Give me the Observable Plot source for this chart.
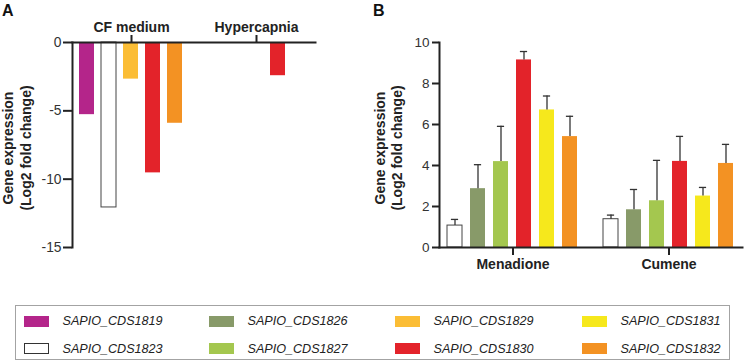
<!DOCTYPE html>
<html>
<head>
<meta charset="utf-8">
<script src="https://cdn.jsdelivr.net/npm/d3@7"></script>
<script src="https://cdn.jsdelivr.net/npm/@observablehq/plot@0.6"></script>
<style>
  html, body { margin: 0; padding: 0; background: #fff; }
  #page { position: relative; width: 745px; height: 361px; overflow: hidden;
          font-family: "Liberation Sans", Arial, sans-serif; color: #222; }
  .panel { position: absolute; top: 0; }
  .letter { position: absolute; top: 3px; font-size: 16px; line-height: 16px; font-weight: bold; color: #111; }
  #legend { position: absolute; left: 14.5px; top: 305px; width: 715px; height: 55px;
            box-sizing: border-box; border: 1px solid #a3a3a3; }
  .item { position: absolute; display: flex; align-items: center; height: 20px; }
  .swatch { width: 25px; height: 11px; box-sizing: border-box; margin-right: 14px; }
  .name { font-style: italic; font-size: 12.6px; color: #222; white-space: nowrap; }
  g[aria-label="fx-axis tick label"] text { font-weight: bold; }
  g[aria-label="y-axis tick label"] text { fill: #333; }
</style>
</head>
<body>
<div id="page">
  <div class="panel" id="panelA" style="left:0"></div>
  <div class="panel" id="panelB" style="left:370px"></div>
  <div class="letter" style="left:2px">A</div>
  <div class="letter" style="left:373px">B</div>
  <div id="legend"></div>
</div>
<script>
// Genes and their fill colours
const genes = ["SAPIO_CDS1819", "SAPIO_CDS1823", "SAPIO_CDS1826", "SAPIO_CDS1827",
               "SAPIO_CDS1829", "SAPIO_CDS1830", "SAPIO_CDS1831", "SAPIO_CDS1832"];
const geneFills = ["#b4258a", "#ffffff", "#889a69", "#a4c74f",
                   "#fbbd35", "#e3232a", "#f6e81c", "#f39223"];
const outlinedGenes = ["SAPIO_CDS1823"];
// Legend order (row by row)
const legendOrder = ["SAPIO_CDS1819", "SAPIO_CDS1826", "SAPIO_CDS1829", "SAPIO_CDS1831",
                     "SAPIO_CDS1823", "SAPIO_CDS1827", "SAPIO_CDS1830", "SAPIO_CDS1832"];

// Panel A: repression under CF medium and hypercapnia
const conditionsA = ["CF medium", "Hypercapnia"];
const genesA = ["SAPIO_CDS1819", "SAPIO_CDS1823", "SAPIO_CDS1829", "SAPIO_CDS1830", "SAPIO_CDS1832"];
const cfMedium = [-5.28, -12.07, -2.68, -9.54, -5.91];
const hypercapnia = [null, null, null, -2.43, null];
const ticksA = [0, -5, -10, -15];

// Panel B: induction by oxidative stress (mean and SD)
const treatmentsB = ["Menadione", "Cumene"];
const genesB = ["SAPIO_CDS1823", "SAPIO_CDS1826", "SAPIO_CDS1827", "SAPIO_CDS1830", "SAPIO_CDS1831", "SAPIO_CDS1832"];
const menadione = [1.07, 2.87, 4.19, 9.15, 6.71, 5.41];
const menadioneSd = [0.30, 1.17, 1.72, 0.41, 0.68, 0.99];
const cumene = [1.38, 1.84, 2.28, 4.20, 2.51, 4.10];
const cumeneSd = [0.20, 0.99, 1.97, 1.22, 0.42, 0.93];
const ticksB = [0, 2, 4, 6, 8, 10];

const yLabel = "Gene expression\n(Log2 fold change)";
const font = "'Liberation Sans', Arial, sans-serif";
const ink = "#222";

const rowsA = [];
[cfMedium, hypercapnia].forEach((vals, ci) => vals.forEach((v, gi) => {
  if (v != null) rowsA.push({condition: conditionsA[ci], gene: genesA[gi], value: v});
}));
const rowsB = [];
[[menadione, menadioneSd], [cumene, cumeneSd]].forEach(([vals, sds], ti) => vals.forEach((v, gi) => {
  rowsB.push({treatment: treatmentsB[ti], gene: genesB[gi], value: v, sd: sds[gi]});
}));

const common = {
  height: 290,
  marginTop: 42,
  marginBottom: 43,
  style: {fontFamily: font, fontSize: "13px", color: ink, background: "white", overflow: "visible"},
  color: {domain: genes, range: geneFills}
};

const chartA = Plot.plot({
  ...common,
  width: 370,
  marginLeft: 72,
  marginRight: 55,
  fx: {domain: conditionsA, paddingInner: 0.056, paddingOuter: 0},
  x: {domain: genesA, paddingInner: 0.318, paddingOuter: 0.34, axis: null},
  y: {domain: [-15, 0]},
  marks: [
    Plot.barY(rowsA, {fx: "condition", x: "gene", y: "value", fill: "gene"}),
    Plot.barY(rowsA.filter(d => outlinedGenes.includes(d.gene)),
      {fx: "condition", x: "gene", y: "value", fill: "none", stroke: "#444", strokeWidth: 1}),
    Plot.frame({anchor: "top", facet: "super", stroke: ink, strokeWidth: 2}),
    Plot.frame({anchor: "left", facet: "super", stroke: ink, strokeWidth: 2}),
    Plot.axisY({ticks: ticksA, tickSize: 9, tickPadding: 2, strokeWidth: 2, fontSize: 13.8,
                tickFormat: d => String(d), label: null}),
    Plot.axisFx({anchor: "top", tickSize: 8, tickPadding: 3, strokeWidth: 2, fontSize: 14,
                 fontWeight: "bold", label: null}),
    Plot.text([yLabel], {text: d => d, frameAnchor: "left", textAnchor: "middle", rotate: -90,
                         dx: -56, dy: 3, fontSize: 14, fontWeight: "bold", lineHeight: 1.25,
                         facet: "super"})
  ]
});

const chartB = Plot.plot({
  ...common,
  width: 375,
  marginLeft: 68,
  marginRight: 2,
  fx: {domain: treatmentsB, paddingInner: 0.057, paddingOuter: 0},
  x: {domain: genesB, paddingInner: 0.33, paddingOuter: 0.3, axis: null},
  y: {domain: [0, 10]},
  marks: [
    Plot.barY(rowsB, {fx: "treatment", x: "gene", y: "value", fill: "gene"}),
    Plot.barY(rowsB.filter(d => outlinedGenes.includes(d.gene)),
      {fx: "treatment", x: "gene", y: "value", fill: "none", stroke: "#444", strokeWidth: 1}),
    Plot.ruleX(rowsB, {fx: "treatment", x: "gene", y1: "value", y2: d => d.value + d.sd,
                       stroke: "#333", strokeWidth: 1.3}),
    Plot.tickY(rowsB, {fx: "treatment", x: "gene", y: d => d.value + d.sd,
                       insetLeft: 3.9, insetRight: 3.9, stroke: "#333", strokeWidth: 1.3}),
    Plot.frame({anchor: "bottom", facet: "super", stroke: ink, strokeWidth: 2}),
    Plot.frame({anchor: "left", facet: "super", stroke: ink, strokeWidth: 2}),
    Plot.axisY({ticks: ticksB, tickSize: 7, tickPadding: 3, strokeWidth: 2, fontSize: 13.5, label: null}),
    Plot.axisFx({anchor: "bottom", tickSize: 8, tickPadding: 4, strokeWidth: 2, fontSize: 14,
                 fontWeight: "bold", label: null}),
    Plot.text([yLabel], {text: d => d, frameAnchor: "left", textAnchor: "middle", rotate: -90,
                         dx: -51.5, dy: 3, fontSize: 14, fontWeight: "bold", lineHeight: 1.22,
                         facet: "super"})
  ]
});

document.getElementById("panelA").appendChild(chartA);
document.getElementById("panelB").appendChild(chartB);

// Legend: two rows of four swatches
const legend = d3.select("#legend");
const colLefts = [8, 193, 379, 566];
const rowTops = [5, 32.5];
legendOrder.forEach((g, i) => {
  const fill = geneFills[genes.indexOf(g)];
  const item = legend.append("div").attr("class", "item")
    .style("left", colLefts[i % 4] + "px")
    .style("top", rowTops[Math.floor(i / 4)] + "px");
  item.append("div").attr("class", "swatch")
    .style("background", fill)
    .style("border", outlinedGenes.includes(g) ? "1px solid #333" : "none");
  item.append("div").attr("class", "name").text(g);
});
</script>
</body>
</html>
